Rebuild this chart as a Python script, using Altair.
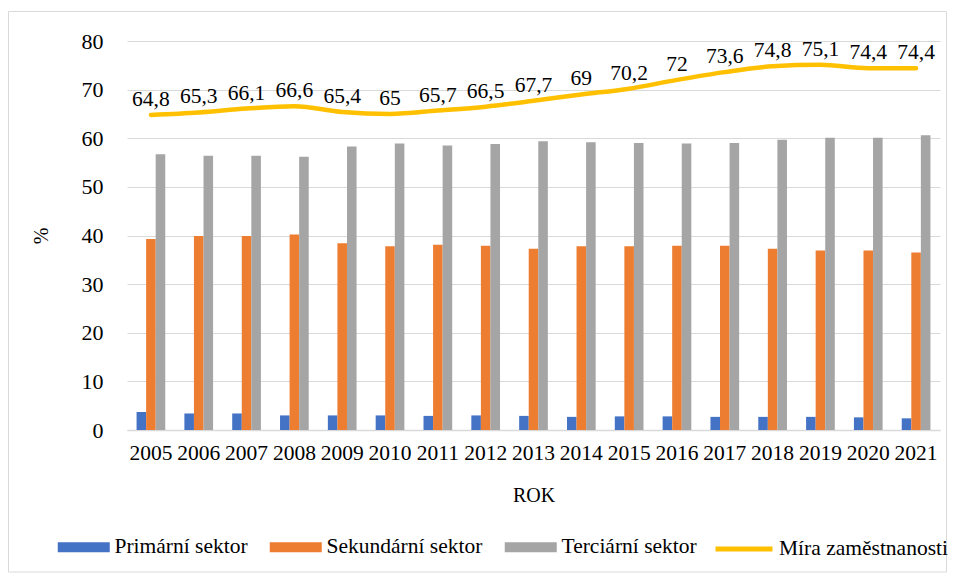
import altair as alt
import pandas as pd

years = [str(y) for y in range(2005, 2022)]
sectors = ["Primární sektor", "Sekundární sektor", "Terciární sektor"]
primary = [3.7, 3.4, 3.4, 3.0, 3.0, 3.0, 2.9, 3.0, 2.9, 2.7, 2.8, 2.8, 2.7, 2.7, 2.7, 2.6, 2.4]
secondary = [39.3, 39.9, 39.9, 40.2, 38.4, 37.8, 38.1, 37.9, 37.3, 37.8, 37.8, 37.9, 37.9, 37.3, 36.9, 36.9, 36.5]
tertiary = [56.7, 56.4, 56.4, 56.2, 58.3, 58.9, 58.5, 58.8, 59.4, 59.2, 59.0, 58.9, 59.0, 59.7, 60.1, 60.1, 60.6]
rate = [64.8, 65.3, 66.1, 66.6, 65.4, 65.0, 65.7, 66.5, 67.7, 69.0, 70.2, 72.0, 73.6, 74.8, 75.1, 74.4, 74.4]
rate_name = "Míra zaměstnanosti"

bar_colors = ["#4472C4", "#ED7D31", "#A5A5A5"]
line_color = "#FFC000"
FONT = "Liberation Serif, Times New Roman, DejaVu Serif, serif"

rows = []
for series_name, vals in zip(sectors, [primary, secondary, tertiary]):
    for y, v in zip(years, vals):
        rows.append({"year": y, "sector": series_name, "value": v})
bars_df = pd.DataFrame(rows)

line_df = pd.DataFrame({
    "year": years,
    "rate": rate,
    "name": rate_name,
    "label": [f"{v:g}".replace(".", ",") for v in rate],
})

x_enc = alt.X(
    "year:N",
    sort=years,
    scale=alt.Scale(paddingInner=0.4, paddingOuter=0.2),
    axis=alt.Axis(
        title="ROK", labelAngle=0, labelOverlap=False, ticks=False, domain=True,
        domainColor="#D9D9D9", domainWidth=1.5, labelPadding=12, titlePadding=22,
        labelFontSize=21.5, titleFontSize=20, labelColor="#000", titleColor="#000",
        labelFont=FONT, titleFont=FONT, titleFontWeight="normal", grid=False,
    ),
)
y_axis = alt.Axis(
    title="%", values=list(range(0, 81, 10)), grid=True, gridColor="#D9D9D9", gridWidth=1.2,
    domain=False, ticks=False, labelPadding=24, titlePadding=30,
    labelFontSize=22, titleFontSize=20, labelColor="#000", titleColor="#000",
    labelFont=FONT, titleFont=FONT, titleFontWeight="normal",
)
y_scale = alt.Scale(domain=[0, 80], nice=False)

bars = alt.Chart(bars_df).mark_bar().encode(
    x=x_enc,
    xOffset=alt.XOffset("sector:N", sort=sectors, scale=alt.Scale(paddingInner=0, paddingOuter=0)),
    y=alt.Y("value:Q", scale=y_scale, axis=y_axis, title="%"),
    fill=alt.Fill(
        "sector:N",
        scale=alt.Scale(domain=sectors, range=bar_colors),
        legend=alt.Legend(
            orient="none", legendX=-54, legendY=495, direction="horizontal", columns=3,
            title=None, symbolType="M-2.6,-0.5H2.6V0.5H-2.6Z", symbolSize=400,
            symbolStrokeWidth=0, labelOffset=20, columnPadding=21, padding=0,
            labelFontSize=21.5, labelFont=FONT, labelColor="#000", labelLimit=300,
        ),
    ),
)

line = alt.Chart(line_df).mark_line(strokeWidth=4.5, interpolate="monotone", strokeCap="round").encode(
    x=alt.X("year:N", sort=years),
    y=alt.Y("rate:Q", scale=y_scale, title="%"),
    stroke=alt.Stroke(
        "name:N",
        scale=alt.Scale(domain=[rate_name], range=[line_color]),
        legend=alt.Legend(
            orient="none", legendX=586, legendY=477, title=None, symbolType="stroke",
            symbolSize=3249, symbolStrokeWidth=5, labelOffset=4, padding=0,
            labelFontSize=21.5, labelFont=FONT, labelColor="#000", labelLimit=300,
        ),
    ),
)

labels = alt.Chart(line_df).mark_text(
    dy=-9, baseline="alphabetic", align="center", fontSize=21.5, font=FONT, color="#000"
).encode(
    x=alt.X("year:N", sort=years),
    y=alt.Y("rate:Q", scale=y_scale, title="%"),
    text="label:N",
)

frame = alt.Chart(pd.DataFrame({"a": [0]})).mark_rect(
    fill="transparent", stroke="#D9D9D9", strokeWidth=1
).encode(
    x=alt.value(-118.5), x2=alt.value(819.5), y=alt.value(-29.5), y2=alt.value(531),
)

chart = alt.layer(frame, bars, line, labels).resolve_scale(fill="independent", stroke="independent").properties(
    width=813,
    height=389,
    autosize=alt.AutoSizeParams(type="none"),
    padding={"left": 119, "top": 33, "right": 8, "bottom": 143},
).configure_view(stroke=None)

chart.save("out.html", embed_options={"renderer": "svg", "actions": False})
